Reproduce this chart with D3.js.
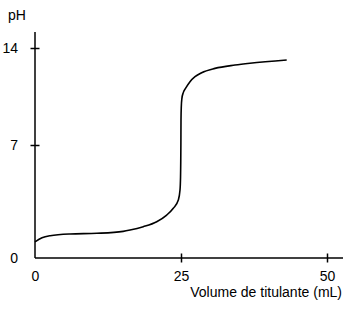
<!DOCTYPE html>
<html>
<head>
<meta charset="utf-8">
<script src="https://cdn.jsdelivr.net/npm/d3@7"></script>
<style>
	body { margin: 0; background: #fff; }
	svg text { font-family: "Liberation Sans", Arial, sans-serif; fill: #000; }
</style>
</head>
<body>
<svg id="chart"></svg>
<script>
// titration curve
const volume = [0, 1.2, 2.6, 6.0, 10.6, 15.1, 16.27, 18.54, 20.84, 22.55, 23.68, 24.54, 24.83, 24.92, 24.98, 25.0, 25.05, 25.15, 25.39, 25.8, 26.54, 27.4, 28.54, 30.82, 34.25, 36.8, 43.1];
const ph     = [1.0, 1.25, 1.38, 1.49, 1.53, 1.65, 1.73, 1.94, 2.25, 2.66, 3.08, 3.59, 4.21, 5.0, 7.0, 8.8, 9.75, 10.35, 10.78, 11.1, 11.57, 11.93, 12.22, 12.53, 12.77, 12.9, 13.13];

const xTicks = [0, 25, 50];
const yTicks = [0, 7, 14];
const xTitle = 'Volume de titulante (mL)';
const yTitle = 'pH';

const width = 348,
	height = 314;

const svg = d3.select('#chart').attr('width', width).attr('height', height);

const x = d3.scaleLinear()
	.domain([0, 25])
	.range([35, 181]);

// the printed axis is not evenly spaced, so keep the tick positions
const y = d3.scaleLinear()
	.domain([0, 7, 14])
	.range([258, 145, 48]);

const xAxis = d3.axisBottom(x).tickValues(xTicks).tickSizeOuter(0).tickPadding(7);
const yAxis = d3.axisLeft(y).tickValues(yTicks).tickSizeOuter(0).tickPadding(11);

const gx = svg.append('g')
	.attr('transform', 'translate(0,' + y(0) + ')')
	.call(xAxis);
gx.select('.domain').attr('d', 'M' + x(0) + ',0H343');
gx.selectAll('.tick line').attr('y1', -4.5).attr('y2', 4.5);
// the 0 tick sits on the corner, no mark there
gx.selectAll('.tick').filter(d => d === 0).select('line').remove();

const gy = svg.append('g')
	.attr('transform', 'translate(' + x(0) + ',0)')
	.call(yAxis);
gy.select('.domain').attr('d', 'M0,' + y(0) + 'V32');
gy.selectAll('.tick line').attr('x1', -4.5).attr('x2', 4.5);
gy.selectAll('.tick').filter(d => d === 0).select('line').remove();

svg.selectAll('.domain, .tick line')
	.attr('stroke', '#000')
	.attr('stroke-width', 1.5);

svg.selectAll('.tick text')
	.style('font-size', '14px')
	.attr('fill', '#000');

svg.append('text')
	.attr('x', 8)
	.attr('y', 20)
	.style('font-size', '14px')
	.text(yTitle);

svg.append('text')
	.attr('x', 342)
	.attr('y', 297)
	.attr('text-anchor', 'end')
	.style('font-size', '14px')
	.text(xTitle);

const line = d3.line()
	.x((d, i) => x(volume[i]))
	.y(d => y(d))
	.curve(d3.curveMonotoneX);

svg.append('path')
	.datum(ph)
	.attr('fill', 'none')
	.attr('stroke', '#000')
	.attr('stroke-width', 1.6)
	.attr('d', line);
</script>
</body>
</html>
